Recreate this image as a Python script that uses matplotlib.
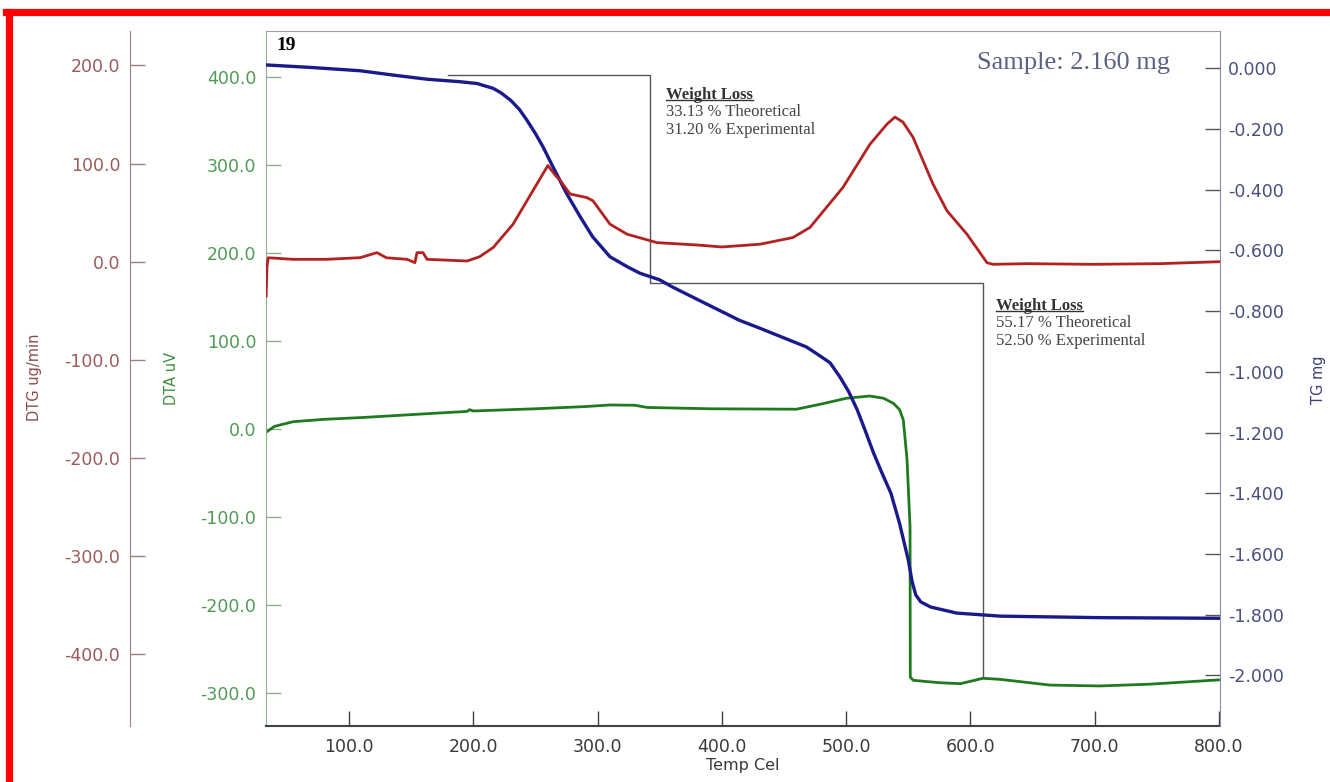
import matplotlib
matplotlib.use('Agg')
import matplotlib.pyplot as plt
from matplotlib.lines import Line2D

# TG (mg) vs temperature
tg_temp = [34, 69, 109, 135, 163, 189, 203, 216, 222, 230, 237, 243, 250, 256, 264, 275,
           286, 296, 310, 324, 334, 350, 360, 382, 414, 431, 468, 478, 487, 495, 502,
           509, 515, 522, 529, 536, 543, 550, 553, 556, 560, 568, 589, 624, 704, 801]
tg_mg = [0.011, 0.003, -0.008, -0.022, -0.036, -0.044, -0.05, -0.066, -0.08, -0.105,
         -0.135, -0.17, -0.215, -0.258, -0.324, -0.412, -0.489, -0.555, -0.621, -0.654,
         -0.675, -0.697, -0.72, -0.765, -0.83, -0.857, -0.918, -0.945, -0.97, -1.017,
         -1.065, -1.126, -1.19, -1.267, -1.335, -1.40, -1.50, -1.62, -1.69, -1.735,
         -1.758, -1.775, -1.795, -1.805, -1.81, -1.812]

# DTA (uV)
dta_temp = [34, 40, 55, 80, 110, 140, 170, 195, 197, 200, 250, 290, 310, 330, 340, 390,
            460, 480, 500, 519, 530, 538, 543, 546, 549, 551.4, 551.6, 554, 575, 592,
            610, 624, 664, 704, 744, 801]
dta_uv = [-3, 3, 8.3, 11, 13, 15.5, 18, 20, 22, 20.5, 23, 25.5, 27.3, 27, 24.5, 23,
          22.5, 28.4, 34.9, 37.5, 35, 29.2, 22, 10.2, -35, -111, -282, -285.6, -288.3,
          -289.4, -283.3, -284.5, -291, -292, -290, -285]

# DTG (ug/min)
dtg_temp = [33.3, 34, 35, 55, 82, 109, 122.5, 130, 146.7, 153, 154.7, 159.5, 162.8, 195,
            205, 216, 232, 248, 260, 266, 270, 277.8, 291.5, 296.3, 310, 323.7, 347.8,
            380, 400, 430.7, 457.2, 470.9, 497.5, 519.2, 532.9, 539.3, 545.7, 553.8,
            569.9, 581.1, 597.2, 613.3, 618.1, 645.5, 698.6, 752.5, 800.8]
dtg_ug = [-35, -5, 4, 2.4, 2.4, 4.1, 9.2, 4, 2.4, -1, 9.2, 9.2, 2.4, 0.7, 5, 14.4, 38.2,
          72.4, 98, 88, 82.6, 69, 65.2, 62, 38.2, 28, 19.4, 17, 15, 17.8, 24.6, 34.9,
          75.8, 119.7, 140.2, 147.3, 142.2, 126.8, 79, 51.9, 28, -1, -2.7, -2, -2.7, -2, 0]

# weight-loss step marker (temp, TG)
step_temp = [180, 342, 342, 610, 610]
step_tg = [-0.022, -0.022, -0.707, -0.707, -2.005]

x_ticks = [100, 200, 300, 400, 500, 600, 700, 800]
dta_ticks = [-300, -200, -100, 0, 100, 200, 300, 400]
dtg_ticks = [-400, -300, -200, -100, 0, 100, 200]
tg_ticks = [0.0, -0.2, -0.4, -0.6, -0.8, -1.0, -1.2, -1.4, -1.6, -1.8, -2.0]

W, H = 1330, 782
def fx(px):
    return px / W
def fy(py):
    return 1 - py / H

plt.rcParams['font.family'] = 'DejaVu Sans'
fig = plt.figure(figsize=(13.3, 7.82), dpi=100)
ax = fig.add_axes([fx(266), fy(726), (1220 - 266) / W, (726 - 31) / H])
ax_tg = ax.twinx()
ax_dtg = ax.twinx()

# DTA on host axis
ax.plot(dta_temp, dta_uv, color='#1f7a1f', lw=2.0, zorder=2)
ax.set_xlim(33.2, 800.8)
ax.set_ylim(-337.5, 452.3)
ax.set_xticks(x_ticks)
ax.set_xticklabels(['%.1f' % v for v in x_ticks])
ax.set_yticks(dta_ticks)
ax.set_yticklabels(['%.1f' % v for v in dta_ticks])
ax.tick_params(axis='y', direction='in', length=11, width=1, color='#8fb08f',
               labelcolor='#4f9a55', labelsize=12.5, pad=7)
ax.tick_params(axis='x', direction='in', length=11, width=1, color='#404040',
               labelcolor='#3a3a3a', labelsize=12.5, pad=9)
ax.spines['left'].set_color('#8fb08f')
ax.spines['bottom'].set_color('#404040')
ax.spines['bottom'].set_linewidth(1.5)
ax.spines['top'].set_color('#a0a0a0')
ax.spines['right'].set_visible(False)
ax.set_xlabel('Temp Cel', fontsize=11.5, color='#3a3a3a', labelpad=1)

# TG on right axis
ax_tg.plot(tg_temp, tg_mg, color='#1a1a8c', lw=2.4, zorder=3)
ax_tg.plot(step_temp, step_tg, color='#555555', lw=1.0)
ax_tg.set_ylim(-2.167, 0.123)
ax_tg.set_yticks(tg_ticks)
ax_tg.set_yticklabels(['%.3f' % v if v != 0 else '0.000' for v in tg_ticks])
ax_tg.tick_params(axis='y', direction='in', length=11, width=1, color='#555555',
                  labelcolor='#4a4e7e', labelsize=12.5, pad=6)
ax_tg.spines['right'].set_color('#8890a8')
for s in ['left', 'top', 'bottom']:
    ax_tg.spines[s].set_visible(False)

# DTG on offset left axis
ax_dtg.plot(dtg_temp, dtg_ug, color='#b22222', lw=2.0, zorder=2)
ax_dtg.set_ylim(-473, 235)
ax_dtg.spines['left'].set_position(('axes', (130 - 266) / 954))
ax_dtg.spines['left'].set_visible(True)
ax_dtg.spines['left'].set_color('#a08080')
for s in ['right', 'top', 'bottom']:
    ax_dtg.spines[s].set_visible(False)
ax_dtg.yaxis.set_ticks_position('left')
ax_dtg.yaxis.set_label_position('left')
ax_dtg.set_yticks(dtg_ticks)
ax_dtg.set_yticklabels(['%.1f' % v for v in dtg_ticks])
ax_dtg.tick_params(axis='y', direction='in', length=11, width=1, color='#a08080',
                   labelcolor='#9b5b5b', labelsize=12.5, pad=7)

# axis titles
fig.text(fx(35), fy(377), 'DTG ug/min', rotation=90, ha='center', va='center',
         fontsize=10.5, color='#8b4a4a')
fig.text(fx(172), fy(378), 'DTA uV', rotation=90, ha='center', va='center',
         fontsize=10.5, color='#3f8f3f')
fig.text(fx(1318), fy(380), 'TG mg', rotation=90, ha='center', va='center',
         fontsize=10.5, color='#3a3f7a')

# annotations
serif = 'Liberation Serif'
fig.text(fx(276), fy(45), '19', fontsize=14, fontweight='bold', family=serif,
         ha='left', va='center', color='black')
fig.text(fx(977), fy(63), 'Sample: 2.160 mg', fontsize=19, family=serif,
         ha='left', va='center', color='#5b6185')

heads = []
for (x0, y0, theo, expe) in [(666, 95, '33.13 % Theoretical', '31.20 % Experimental'),
                             (996, 306, '55.17 % Theoretical', '52.50 % Experimental')]:
    h = fig.text(fx(x0), fy(y0), 'Weight Loss', fontsize=12, fontweight='bold',
                 family=serif, ha='left', va='center', color='#333333')
    heads.append(h)
    fig.text(fx(x0), fy(y0 + 17.5), theo, fontsize=12, family=serif,
             ha='left', va='center', color='#444444')
    fig.text(fx(x0), fy(y0 + 35), expe, fontsize=12, family=serif,
             ha='left', va='center', color='#444444')

fig.canvas.draw()
r = fig.canvas.get_renderer()
for h in heads:
    bb = h.get_window_extent(r)
    yl = bb.y0 + 3
    fig.add_artist(Line2D([bb.x0 / W, bb.x1 / W], [yl / H, yl / H],
                          color='#333333', lw=1.0))

# red frame
fig.add_artist(Line2D([fx(8.5), fx(8.5)], [fy(11.5), -0.05], color='red', lw=5.2))
fig.add_artist(Line2D([fx(8.5) - 0.002, 1.05], [fy(11.5), fy(11.5)], color='red', lw=5.2))

fig.savefig('out.png', dpi=100)
